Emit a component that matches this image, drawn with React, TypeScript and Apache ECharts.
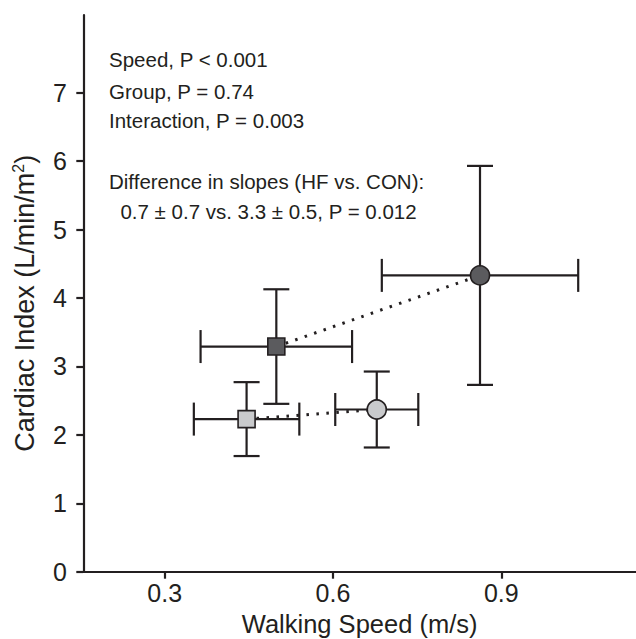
import React, { useEffect, useRef } from "react";
import * as echarts from "echarts";

// Data (mean ± SD), squares = slow speed, circles = fast speed
const groups = ["HF", "CON"];
const hfSpeed = [0.446, 0.678];
const hfSpeedSD = [0.094, 0.074];
const hfCI = [2.23, 2.37];
const hfCISD = [0.54, 0.555];
const conSpeed = [0.499, 0.862];
const conSpeedSD = [0.135, 0.175];
const conCI = [3.29, 4.33];
const conCISD = [0.837, 1.6];
const xTicks = [0.3, 0.6, 0.9];
const yTicks = [0, 1, 2, 3, 4, 5, 6, 7];
const annotations = [
  "Speed, P < 0.001",
  "Group, P = 0.74",
  "Interaction, P = 0.003",
  "Difference in slopes (HF vs. CON):",
  "  0.7 ± 0.7 vs. 3.3 ± 0.5, P = 0.012",
];

const INK = "#231f20";
const FONT = "'Liberation Sans', Arial, Helvetica, sans-serif";
const fills = { HF: "#c9cacc", CON: "#5b5b5e" };

export default function App() {
  const ref = useRef<HTMLDivElement>(null);
  useEffect(() => {
    if (!ref.current) return;
    const chart = echarts.init(ref.current, null, { renderer: "svg" });

    const sets = [
      { name: groups[0], x: hfSpeed, xs: hfSpeedSD, y: hfCI, ys: hfCISD },
      { name: groups[1], x: conSpeed, xs: conSpeedSD, y: conCI, ys: conCISD },
    ];

    const errData: number[][] = [];
    sets.forEach((s) => {
      s.x.forEach((xv, i) => {
        errData.push([xv, s.y[i], s.xs[i], s.ys[i]]);
      });
    });

    const series: any[] = [];
    sets.forEach((s) => {
      series.push({
        type: "line",
        name: s.name + " slope",
        data: s.x.map((xv, i) => [xv, s.y[i]]),
        symbol: "none",
        lineStyle: { color: INK, width: 3, type: [2.5, 7.5], cap: "butt" },
        z: 1,
        silent: true,
      });
    });
    series.push({
      type: "custom",
      name: "error",
      data: errData,
      z: 2,
      silent: true,
      renderItem: (params: any, api: any) => {
        const x = api.value(0);
        const y = api.value(1);
        const xs = api.value(2);
        const ys = api.value(3);
        const left = api.coord([x - xs, y]);
        const right = api.coord([x + xs, y]);
        const top = api.coord([x, y + ys]);
        const bottom = api.coord([x, y - ys]);
        const hc = 16.5;
        const vc = 13;
        const st = { stroke: INK, lineWidth: 2.2, fill: "none" };
        return {
          type: "group",
          children: [
            { type: "line", shape: { x1: left[0], y1: left[1], x2: right[0], y2: right[1] }, style: st },
            { type: "line", shape: { x1: left[0], y1: left[1] - hc, x2: left[0], y2: left[1] + hc }, style: st },
            { type: "line", shape: { x1: right[0], y1: right[1] - hc, x2: right[0], y2: right[1] + hc }, style: st },
            { type: "line", shape: { x1: top[0], y1: top[1], x2: bottom[0], y2: bottom[1] }, style: st },
            { type: "line", shape: { x1: top[0] - vc, y1: top[1], x2: top[0] + vc, y2: top[1] }, style: st },
            { type: "line", shape: { x1: bottom[0] - vc, y1: bottom[1], x2: bottom[0] + vc, y2: bottom[1] }, style: st },
          ],
        };
      },
    });
    sets.forEach((s) => {
      series.push({
        type: "scatter",
        name: s.name,
        z: 3,
        data: s.x.map((xv, i) => ({
          value: [xv, s.y[i]],
          symbol: i === 0 ? "rect" : "circle",
          symbolSize: i === 0 ? 17 : 19,
        })),
        itemStyle: {
          color: (fills as any)[s.name],
          borderColor: INK,
          borderWidth: 1.6,
          opacity: 1,
        },
      });
    });

    const lineTops = [60, 91.5, 120.5, 181.5, 211.5];
    const graphics = annotations.map((t, i) => ({
      type: "text",
      left: 109,
      top: lineTops[i] - 11,
      style: {
        text: t,
        font: `20.5px ${FONT}`,
        fill: INK,
      },
      silent: true,
    }));

    chart.setOption({
      animation: false,
      backgroundColor: "#ffffff",
      textStyle: { fontFamily: FONT, color: INK },
      grid: {
        left: 83.3,
        right: 0,
        top: 15,
        bottom: 67.3,
        containLabel: false,
        outerBoundsMode: "none",
      },
      xAxis: {
        type: "value",
        min: 0.155,
        max: 1.14,
        name: "Walking Speed (m/s)",
        nameLocation: "middle",
        nameGap: 39,
        nameTextStyle: { fontSize: 25.5, color: INK, fontFamily: FONT },
        axisLine: { show: true, onZero: false, lineStyle: { color: INK, width: 2.2 } },
        axisTick: { show: true, length: 7, customValues: xTicks, lineStyle: { color: INK, width: 2.2 } },
        axisLabel: {
          customValues: xTicks,
          formatter: (v: number) => v.toFixed(1),
          fontSize: 25,
          color: INK,
          margin: 9,
          fontFamily: FONT,
        },
        splitLine: { show: false },
      },
      yAxis: {
        type: "value",
        min: 0,
        max: 8.135,
        name: "Cardiac Index (L/min/m{sup|2})",
        nameLocation: "middle",
        nameGap: 44,
        nameRotate: 90,
        nameTextStyle: {
          fontSize: 27,
          color: INK,
          fontFamily: FONT,
          padding: [0, 20, 0, 0],
          rich: {
            sup: { fontSize: 16, color: INK, fontFamily: FONT, padding: [0, 0, 13, 0] },
          },
        },
        axisLine: { show: true, onZero: false, lineStyle: { color: INK, width: 2.2 } },
        axisTick: { show: true, length: 7, customValues: yTicks, lineStyle: { color: INK, width: 2.2 } },
        axisLabel: {
          customValues: yTicks,
          formatter: (v: number) => String(Math.round(v)),
          fontSize: 25,
          color: INK,
          margin: 16.5,
          fontFamily: FONT,
        },
        splitLine: { show: false },
      },
      graphic: graphics,
      series,
    });

    return () => chart.dispose();
  }, []);

  return (
    <div
      ref={ref}
      style={{ position: "fixed", left: 0, top: 0, width: 636, height: 639, background: "#fff" }}
    />
  );
}
